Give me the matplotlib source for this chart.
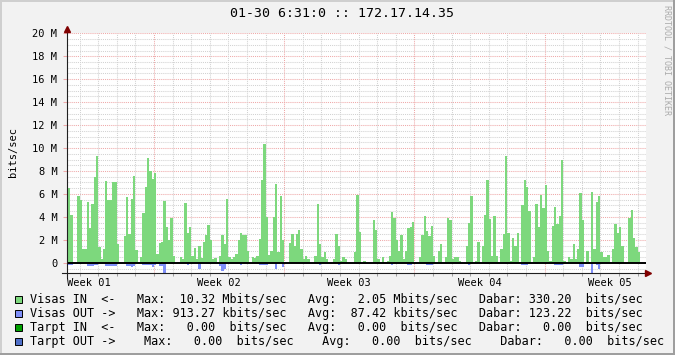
import numpy as np
import matplotlib.pyplot as plt
from matplotlib.patches import Rectangle
from matplotlib.lines import Line2D

W, H = 675, 355
MONO = 'DejaVu Sans Mono'

# 3-hour samples in Mbit/s, one row per day (day 0 = Monday of week 02)
first_day = -5
samples_per_day = 8
visas_in = [
    0, 0, 0.4, 6.5, 4.2, 0, 0, 5.8,
    5.5, 1.2, 1.2, 5.3, 3.0, 5.1, 7.5, 9.3,
    1.4, 0.3, 1.2, 7.1, 5.5, 5.5, 7.0, 7.0,
    1.6, 0, 0, 2.3, 5.7, 2.5, 5.6, 7.6,
    1.1, 0.1, 0.5, 4.3, 6.6, 9.1, 8.0, 7.3,
    7.8, 0.8, 1.7, 1.8, 5.4, 3.1, 2.0, 3.9,
    0.6, 0, 0.1, 0.5, 0.3, 5.2, 2.6, 3.1,
    0.6, 1.3, 0.3, 1.5, 0.4, 1.8, 2.4, 3.3,
    2.0, 0.3, 0.4, 0, 0.6, 2.4, 1.6, 5.6,
    0.5, 0.3, 0.5, 0.8, 2.0, 2.6, 2.4, 2.4,
    1.0, 0, 0.5, 0.4, 0.6, 2.1, 7.2, 10.32,
    4.0, 0.7, 1.0, 4.0, 6.9, 0.9, 5.8, 2.0,
    0, 0, 1.7, 2.5, 1.5, 2.5, 2.9, 1.2,
    0.3, 0.6, 0.3, 0, 0, 0.6, 5.1, 1.6,
    0.5, 0.9, 0.3, 0, 0, 0.3, 2.5, 1.5,
    0.2, 0.5, 0.3, 0, 0, 0, 0.9, 5.9,
    2.7, 0, 0.2, 0, 0, 0, 3.7, 2.9,
    0.3, 0.1, 0.5, 0.1, 0.2, 0.6, 4.4, 3.9,
    2.0, 1.0, 2.4, 0.3, 1.0, 3.0, 3.1, 3.6,
    0, 0, 0.5, 2.4, 4.1, 2.8, 2.3, 3.2,
    0.6, 0, 1.0, 1.6, 0, 0.5, 3.9, 3.7,
    0.3, 0.5, 0.5, 0.2, 0, 0, 1.5, 3.5,
    5.8, 0, 0.2, 1.8, 0, 1.5, 4.2, 7.2,
    3.8, 0.6, 4.1, 0.6, 0.1, 1.2, 2.5, 9.3,
    2.6, 0.2, 2.2, 1.5, 2.6, 0, 5.0, 7.2,
    6.6, 4.5, 0.1, 0.5, 5.1, 3.1, 5.9, 4.8,
    6.8, 1.0, 0.2, 3.2, 4.9, 3.4, 4.1, 9.0,
    0.2, 0, 0.5, 0.3, 1.6, 0.3, 1.2, 6.1,
    3.7, 0.1, 1.0, 0.1, 6.2, 1.2, 5.3, 5.8,
    0.9, 0.5, 0.5, 0.7, 0.05, 1.2, 3.4, 2.6,
    3.1, 1.5, 0, 0, 3.9, 4.6, 2.2, 1.4,
    0.9,
]
visas_out = [
    0, 0, 0, 0.15, 0.15, 0, 0, 0.1,
    0.1, 0, 0, 0.25, 0.3, 0.25, 0.2, 0.2,
    0, 0, 0, 0.25, 0.25, 0.25, 0.25, 0.25,
    0, 0, 0, 0, 0.3, 0.3, 0.4, 0.3,
    0, 0, 0, 0.2, 0.2, 0.2, 0.2, 0.4,
    0.2, 0, 0.3, 0.3, 0.85, 0, 0, 0.1,
    0, 0, 0, 0, 0, 0, 0.2, 0,
    0, 0, 0, 0.55, 0, 0, 0, 0.1,
    0, 0, 0, 0, 0.3, 0.7, 0.5, 0,
    0, 0, 0, 0, 0, 0.15, 0, 0,
    0, 0, 0, 0, 0, 0.15, 0.2, 0.2,
    0.2, 0, 0, 0, 0.55, 0, 0, 0.4,
    0, 0, 0, 0, 0, 0, 0, 0,
    0, 0, 0, 0, 0, 0, 0, 0.2,
    0, 0, 0, 0, 0, 0, 0, 0.2,
    0, 0, 0, 0, 0, 0, 0, 0.1,
    0, 0, 0, 0, 0, 0, 0, 0,
    0, 0, 0, 0, 0, 0, 0.15, 0,
    0, 0, 0, 0, 0, 0.15, 0.15, 0,
    0, 0, 0, 0, 0, 0.15, 0.15, 0.15,
    0, 0, 0, 0, 0, 0, 0, 0,
    0, 0, 0, 0, 0, 0, 0.1, 0.15,
    0, 0, 0, 0, 0, 0, 0.1, 0.1,
    0, 0, 0, 0, 0, 0, 0, 0.1,
    0, 0, 0, 0, 0, 0, 0.15, 0.15,
    0.15, 0, 0, 0, 0.1, 0, 0, 0,
    0.1, 0, 0, 0, 0.15, 0.15, 0.15, 0.15,
    0, 0, 0, 0, 0, 0, 0, 0.35,
    0.35, 0, 0, 0, 0.91327, 0, 0.15, 0.5,
    0.1, 0, 0, 0, 0, 0, 0, 0.1,
    0.1, 0, 0, 0, 0, 0, 0, 0,
    0,
]

week_centers = [-3.5, 3.5, 10.5, 17.5, 24.5]
week_labels = ['Week 01', 'Week 02', 'Week 03', 'Week 04', 'Week 05']
week_starts = [0, 7, 14, 21]
y_ticks = [0, 2, 4, 6, 8, 10, 12, 14, 16, 18, 20]
y_tick_labels = ['0'] + ['%d M' % v for v in y_ticks[1:]]

title = '01-30 6:31:0 :: 172.17.14.35'
legend_rows = [
    'Visas IN  <-   Max:  10.32 Mbits/sec   Avg:   2.05 Mbits/sec   Dabar: 330.20  bits/sec',
    'Visas OUT ->   Max: 913.27 kbits/sec   Avg:  87.42 kbits/sec   Dabar: 123.22  bits/sec',
    'Tarpt IN  <-   Max:   0.00  bits/sec   Avg:   0.00  bits/sec   Dabar:   0.00  bits/sec',
    'Tarpt OUT ->    Max:   0.00  bits/sec    Avg:   0.00  bits/sec    Dabar:   0.00  bits/sec',
]
legend_colors = ['#7DD87D', '#7F8FF8', '#00A000', '#4F6FC8']
legend_y = [299.3, 313.3, 327.3, 341.0]

green, blue = legend_colors[0], legend_colors[1]
grid_minor = '#D2D2D2'
grid_major = '#EFA9A9'
arrow_col = '#800000'
axis_col = '#202020'


def fx(x):
    return x / W


def fy(y):
    return 1 - y / H


fig = plt.figure(figsize=(W / 100, H / 100), dpi=100, facecolor='#F2F2F2')

# plot area: x 67..646 px, y 33.3..273.3 px
ax = fig.add_axes([fx(67), fy(273.3), (646 - 67) / W, (273.3 - 33.3) / H])
ax.set_facecolor('white')
px_per_day = 18.6
ax.set_xlim((67 - 154) / px_per_day, (646 - 154) / px_per_day)
ax.set_ylim(-0.91327, 20)

# grid: minor every 0.5 M / every day, major every 2 M / every week
dots = (0, (1, 1))
for v in np.arange(-0.5, 20.01, 0.5):
    if v == 0:
        continue
    major = abs(v % 2) < 1e-9
    ax.axhline(v, color=grid_major if major else grid_minor, lw=0.75,
               linestyle=dots, zorder=1)
for d in range(-4, 27):
    ax.axvline(d, color=grid_major if d in week_starts else grid_minor,
               lw=0.75, linestyle=dots, zorder=1)

# data
vin = np.array(visas_in)
vout = np.array(visas_out)
edges = first_day + np.arange(len(vin) + 1) / samples_per_day
ax.stairs(vin, edges, fill=True, color=green, baseline=0, lw=0, zorder=2)
ax.stairs(-vout, edges, fill=True, color=blue, baseline=0, lw=0, zorder=2)
ax.axhline(0, color='black', lw=1.4, zorder=3)

for s in ax.spines.values():
    s.set_visible(False)

ax.set_yticks(y_ticks)
ax.set_yticklabels(y_tick_labels, fontfamily=MONO, fontsize=7.5)
ax.tick_params(axis='y', length=3, width=0.75, color=grid_major, pad=4)
ax.set_xticks(week_centers)
ax.set_xticklabels(week_labels, fontfamily=MONO, fontsize=7.5)
ax.tick_params(axis='x', length=0, pad=3.5)
ax.set_xticks(range(-4, 27), minor=True)
ax.tick_params(axis='x', which='minor', length=2, width=0.75, color='#A0A0A0')
fig.text(fx(12.5), fy(152), 'bits/sec', rotation=90, ha='center', va='center',
         family=MONO, fontsize=7.5)

# axes with arrows
fig.add_artist(Line2D([fx(67), fx(67)], [fy(277), fy(30)], color=axis_col, lw=0.8))
fig.add_artist(Line2D([fx(62), fx(647)], [fy(273.3), fy(273.3)], color=axis_col, lw=0.8))
fig.add_artist(Line2D([fx(67)], [fy(29)], marker='^', ms=4, color=arrow_col, lw=0))
fig.add_artist(Line2D([fx(648)], [fy(273.3)], marker='>', ms=4, color=arrow_col, lw=0))

# title and watermark
fig.text(fx(341.5), fy(13.5), title, ha='center', va='center', family=MONO, fontsize=9.5)
fig.text(fx(666.5), fy(60), 'RRDTOOL / TOBI OETIKER', rotation=270, ha='center',
         va='center', family=MONO, fontsize=6.0, color='#ABABAB')

# legend
for row, col, y in zip(legend_rows, legend_colors, legend_y):
    fig.add_artist(Rectangle((fx(15), fy(y + 3.5)), 6.5 / W, 7 / H, facecolor=col,
                             edgecolor='black', lw=0.7))
    fig.text(fx(30), fy(y), row, ha='left', va='center', family=MONO, fontsize=8.45)

# shaded frame
fig.add_artist(Rectangle((0, 1 - 2 / H), 1, 2 / H, color='#CFCFCF', lw=0))
fig.add_artist(Rectangle((0, 0), 2 / W, 1, color='#CFCFCF', lw=0))
fig.add_artist(Rectangle((0, 0), 1, 2.5 / H, color='#9E9E9E', lw=0))
fig.add_artist(Rectangle((1 - 2.5 / W, 0), 2.5 / W, 1, color='#9E9E9E', lw=0))

fig.savefig('out.png', dpi=100, facecolor=fig.get_facecolor())
